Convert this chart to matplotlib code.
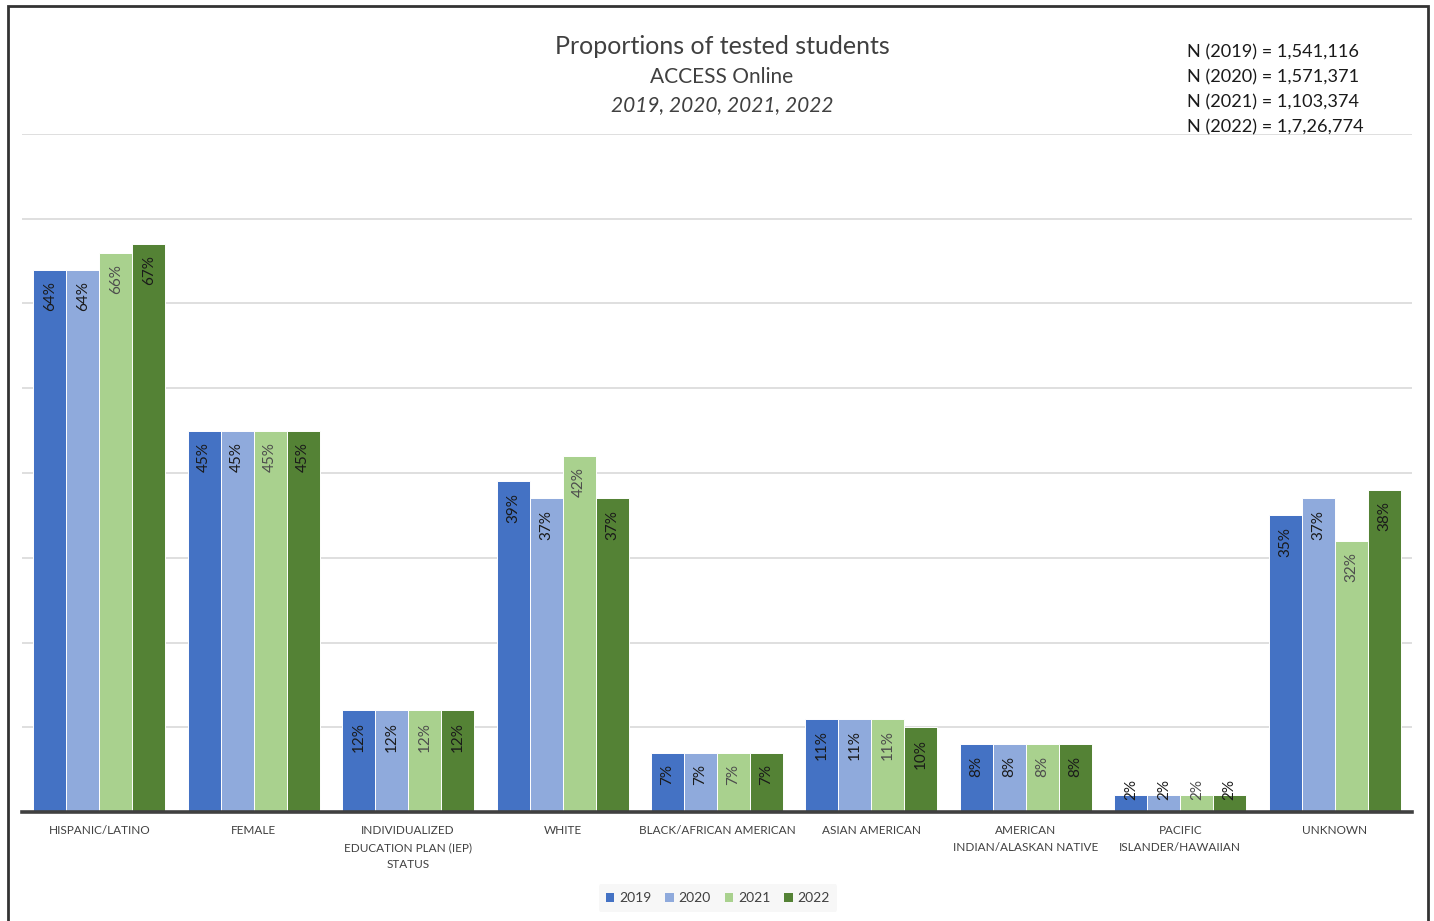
import matplotlib
matplotlib.use("Agg")
import matplotlib.pyplot as plt
from matplotlib.patches import Rectangle, Patch
import numpy as np

plt.rcParams['font.family'] = ['Lato', 'DejaVu Sans']

categories = [
    "HISPANIC/LATINO",
    "FEMALE",
    "INDIVIDUALIZED\nEDUCATION PLAN (IEP)\nSTATUS",
    "WHITE",
    "BLACK/AFRICAN AMERICAN",
    "ASIAN AMERICAN",
    "AMERICAN\nINDIAN/ALASKAN NATIVE",
    "PACIFIC\nISLANDER/HAWAIIAN",
    "UNKNOWN",
]
years = ["2019", "2020", "2021", "2022"]
pct_2019 = [64, 45, 12, 39, 7, 11, 8, 2, 35]
pct_2020 = [64, 45, 12, 37, 7, 11, 8, 2, 37]
pct_2021 = [66, 45, 12, 42, 7, 11, 8, 2, 32]
pct_2022 = [67, 45, 12, 37, 7, 10, 8, 2, 38]
n_lines = [
    "N (2019) = 1,541,116",
    "N (2020) = 1,571,371",
    "N (2021) = 1,103,374",
    "N (2022) = 1,7,26,774",
]

series = [pct_2019, pct_2020, pct_2021, pct_2022]
colors = ["#4472C4", "#8FAADC", "#A9D18E", "#548235"]
label_colors = ["#1a1a1a", "#1a1a1a", "#4d4d4d", "#1a1a1a"]

W, H = 1434, 921
fig = plt.figure(figsize=(W / 100, H / 100), dpi=100)
fig.patch.set_facecolor("white")

# outer frame
fig.add_artist(Rectangle((8 / W, -0.01), (1428 - 8) / W, (H - 6) / H + 0.01,
                         transform=fig.transFigure, fill=False,
                         edgecolor="#333333", linewidth=2))

ax_left, ax_right = 22 / W, 1412 / W
ax_bottom, ax_top = (H - 812) / H, (H - 134) / H
ax = fig.add_axes([ax_left, ax_bottom, ax_right - ax_left, ax_top - ax_bottom])

n_cat = len(categories)
x = np.arange(n_cat)
bar_w = 0.2135
offsets = (np.arange(4) - 1.5) * bar_w

for i, (vals, col, lc) in enumerate(zip(series, colors, label_colors)):
    bars = ax.bar(x + offsets[i], vals, width=bar_w, color=col,
                  edgecolor="white", linewidth=0.7, zorder=3, label=years[i])
    for b, v in zip(bars, vals):
        cx = b.get_x() + b.get_width() / 2
        if v >= 5:
            ax.text(cx, v - 1.35, f"{v}%", rotation=90, ha="center", va="top",
                    fontsize=11, color=lc, zorder=4)
        else:
            ax.text(cx, 1.45, f"{v}%", rotation=90, ha="center", va="bottom",
                    fontsize=11, color=lc, zorder=4)

ax.set_xlim(-0.5, n_cat - 0.5)
ax.set_ylim(0, 80)
ax.set_yticks(np.arange(0, 81, 10))
ax.yaxis.grid(True, color="#d9d9d9", linewidth=1.2, zorder=0)
ax.set_axisbelow(True)
ax.tick_params(axis="y", left=False, labelleft=False)
ax.tick_params(axis="x", bottom=False, length=0, pad=9)
ax.set_xticks(x)
ax.set_xticklabels(categories, fontsize=8.5, color="#404040", linespacing=1.7,
                   va="top")
for s in ["top", "right", "left"]:
    ax.spines[s].set_visible(False)
ax.spines["bottom"].set_color("#404040")
ax.spines["bottom"].set_linewidth(2.6)
ax.spines["bottom"].set_zorder(5)

# titles
fig.text(722 / W, 1 - 47 / H, "Proportions of tested students", ha="center",
         va="center", fontsize=18, color="#404040")
fig.text(722 / W, 1 - 77 / H, "ACCESS Online", ha="center", va="center",
         fontsize=15, color="#404040")
fig.text(722 / W, 1 - 105 / H, "2019, 2020, 2021, 2022", ha="center",
         va="center", fontsize=15, color="#404040", style="italic")

for k, line in enumerate(n_lines):
    fig.text(1187 / W, 1 - (52 + 25 * k) / H, line, ha="left", va="center",
             fontsize=13.1, color="#1a1a1a")

handles = [Patch(facecolor=c, edgecolor="none", label=y) for c, y in zip(colors, years)]
leg = fig.legend(handles=handles, loc="center", bbox_to_anchor=(718 / W, 1 - 898 / H),
                 ncol=4, frameon=True, fontsize=10, handlelength=0.6,
                 handleheight=0.6, handletextpad=0.35, columnspacing=1.0,
                 borderpad=0.55)
leg.get_frame().set_facecolor("#f5f5f5")
leg.get_frame().set_edgecolor("none")
for t in leg.get_texts():
    t.set_color("#404040")

fig.savefig("out.png", dpi=100)
